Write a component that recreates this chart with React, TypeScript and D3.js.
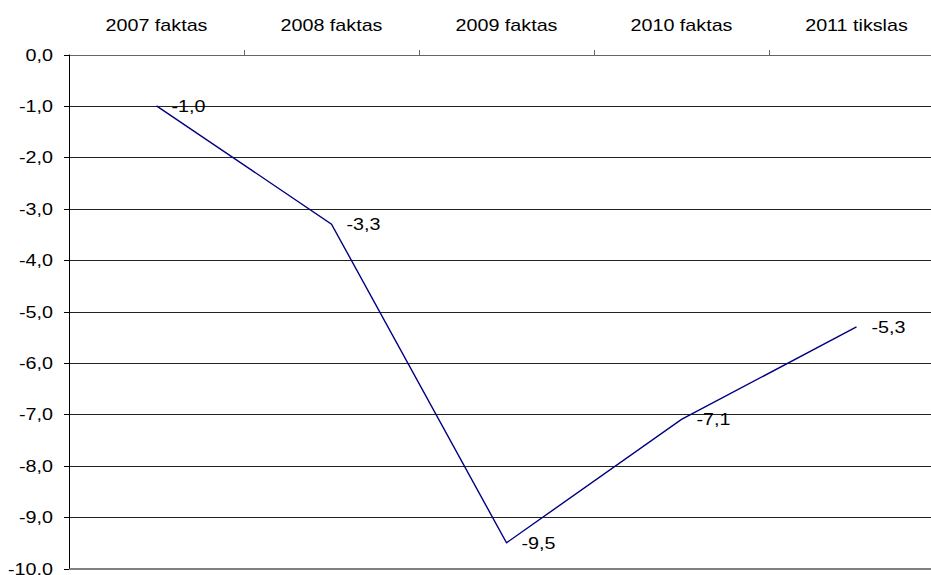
import React from "react";
import * as d3 from "d3";

const categories = ["2007 faktas", "2008 faktas", "2009 faktas", "2010 faktas", "2011 tikslas"];
const values = [-1.0, -3.3, -9.5, -7.1, -5.3];
const yTicks = [0, -1, -2, -3, -4, -5, -6, -7, -8, -9, -10];

const W = 931;
const H = 575;
const left = 69;
const right = 944;
const top = 54.5;
const bottom = 568.5;
const FONT = "'Liberation Sans', Arial, sans-serif";
const FS = 17;
const SX = 1.16;

const fmt = (v: number) => v.toFixed(1).replace(".", ",");

export default function App() {
  const x = d3.scaleBand<string>().domain(categories).range([left, right]);
  const y = d3.scaleLinear().domain([0, -10]).range([top, bottom]);
  const cx = (c: string) => (x(c) as number) + x.bandwidth() / 2;
  const line = d3
    .line<number>()
    .x((_, i) => cx(categories[i]))
    .y((d) => y(d));

  const Txt = ({ tx, ty, anchor, children }: any) => (
    <g transform={`translate(${tx},${ty}) scale(${SX},1)`}>
      <text x={0} y={0} textAnchor={anchor} dominantBaseline="central" fontFamily={FONT} fontSize={FS} fill="#000">
        {children}
      </text>
    </g>
  );

  return (
    <svg width={W} height={H} style={{ position: "absolute", left: 0, top: 0, background: "#fff" }}>
      <rect x={0} y={0} width={W} height={H} fill="#fff" />
      {yTicks.map((t) =>
        t === 0 || t === -10 ? null : (
          <line key={"g" + t} x1={left} x2={right} y1={Math.round(y(t)) + 0.5} y2={Math.round(y(t)) + 0.5} stroke="#222" strokeWidth={1} />
        )
      )}
      {/* top axis */}
      <line x1={left} x2={right} y1={Math.round(top) + 0.5} y2={Math.round(top) + 0.5} stroke="#666" strokeWidth={1} />
      {categories.map((c, i) =>
        i === 0 ? null : (
          <line key={"tt" + c} x1={Math.round(x(c) as number) + 0.5} x2={Math.round(x(c) as number) + 0.5} y1={Math.round(top) - 5} y2={Math.round(top)} stroke="#666" />
        )
      )}
      {/* bottom line */}
      <line x1={left} x2={right} y1={Math.round(bottom)} y2={Math.round(bottom)} stroke="#808080" strokeWidth={2} />
      {/* left axis */}
      <line x1={left + 0.5} x2={left + 0.5} y1={top} y2={bottom} stroke="#000" strokeWidth={1} />
      {yTicks.map((t) => (
        <line key={"yt" + t} x1={left - 5} x2={left} y1={Math.round(y(t)) + 0.5} y2={Math.round(y(t)) + 0.5} stroke="#000" />
      ))}
      {yTicks.map((t) => (
        <Txt key={"yl" + t} tx={53} ty={y(t)} anchor="end">
          {fmt(t)}
        </Txt>
      ))}
      {categories.map((c) => (
        <Txt key={"cl" + c} tx={cx(c)} ty={25} anchor="middle">
          {c}
        </Txt>
      ))}
      <path d={line(values) as string} fill="none" stroke="#000080" strokeWidth={1.4} />
      {values.map((v, i) => (
        <Txt key={"dl" + i} tx={cx(categories[i]) + 15} ty={y(v)} anchor="start">
          {fmt(v)}
        </Txt>
      ))}
    </svg>
  );
}
